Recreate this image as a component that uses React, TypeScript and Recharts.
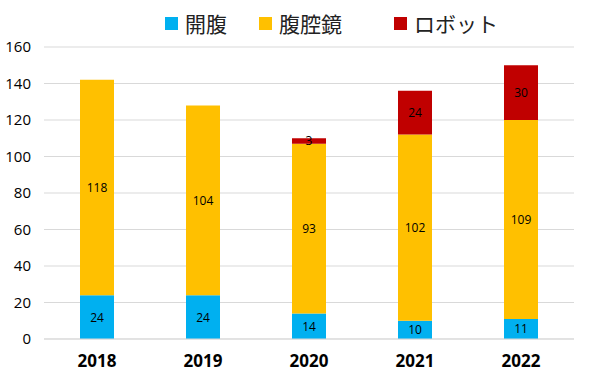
import React from "react";
import { BarChart, Bar, XAxis, YAxis, CartesianGrid, LabelList } from "recharts";

const years = ["2018", "2019", "2020", "2021", "2022"];
const open = [24, 24, 14, 10, 11];
const lap = [118, 104, 93, 102, 109];
const robot = [0, 0, 3, 24, 30];
const yTicks = [0, 20, 40, 60, 80, 100, 120, 140, 160];

const seriesNames = ["開腹", "腹腔鏡", "ロボット"];
const colors = ["#00B0F0", "#FFC000", "#C00000"];

const data = years.map((y, i) => ({ year: y, open: open[i], lap: lap[i], robot: robot[i] }));

const FONT = "'Noto Sans CJK JP', 'Open Sans', sans-serif";

const renderLabel = (props: any) => {
  const { x, y, width, height, value } = props;
  if (!value) return null;
  return (
    <text
      x={x + width / 2}
      y={y + height / 2}
      textAnchor="middle"
      dominantBaseline="central"
      fontSize={12}
      fontFamily="'Open Sans', sans-serif"
      fill="#000"
    >
      {value}
    </text>
  );
};

const LegendOverlay = () => {
  const items = [
    { name: seriesNames[0], color: colors[0], x: 165 },
    { name: seriesNames[1], color: colors[1], x: 259 },
    { name: seriesNames[2], color: colors[2], x: 394 },
  ];
  return (
    <svg width={600} height={44} style={{ position: "absolute", left: 0, top: 0 }}>
      {items.map((it) => (
        <g key={it.name}>
          <rect x={it.x} y={17} width={13} height={13} fill={it.color} />
          <text x={it.x + 20} y={23} dominantBaseline="central" fontSize={21} fontFamily={FONT} fill="#222">
            {it.name}
          </text>
        </g>
      ))}
    </svg>
  );
};

export default function App() {
  return (
    <div style={{ position: "absolute", left: 0, top: 0, width: 600, height: 383, background: "#fff" }}>
      <BarChart width={600} height={383} data={data} margin={{ top: 47, right: 26, bottom: 0, left: 0 }}>
        <CartesianGrid vertical={false} stroke="#d9d9d9" />
        <XAxis
          dataKey="year"
          tickLine={false}
          axisLine={{ stroke: "#d9d9d9" }}
          tickMargin={10}
          height={44}
          tick={{ fontSize: 17, fontWeight: 700, fill: "#000", fontFamily: "'Open Sans', sans-serif" }}
        />
        <YAxis
          width={44}
          domain={[0, 160]}
          ticks={yTicks}
          tickLine={false}
          axisLine={false}
          tickMargin={7}
          tick={{ fontSize: 15, fill: "#000", fontFamily: "'Open Sans', sans-serif" }}
        />
        <Bar dataKey="open" name={seriesNames[0]} stackId="a" fill={colors[0]} barSize={34} isAnimationActive={false}>
          <LabelList dataKey="open" content={renderLabel} />
        </Bar>
        <Bar dataKey="lap" name={seriesNames[1]} stackId="a" fill={colors[1]} barSize={34} isAnimationActive={false}>
          <LabelList dataKey="lap" content={renderLabel} />
        </Bar>
        <Bar dataKey="robot" name={seriesNames[2]} stackId="a" fill={colors[2]} barSize={34} isAnimationActive={false}>
          <LabelList dataKey="robot" content={renderLabel} />
        </Bar>
      </BarChart>
      <LegendOverlay />
    </div>
  );
}
